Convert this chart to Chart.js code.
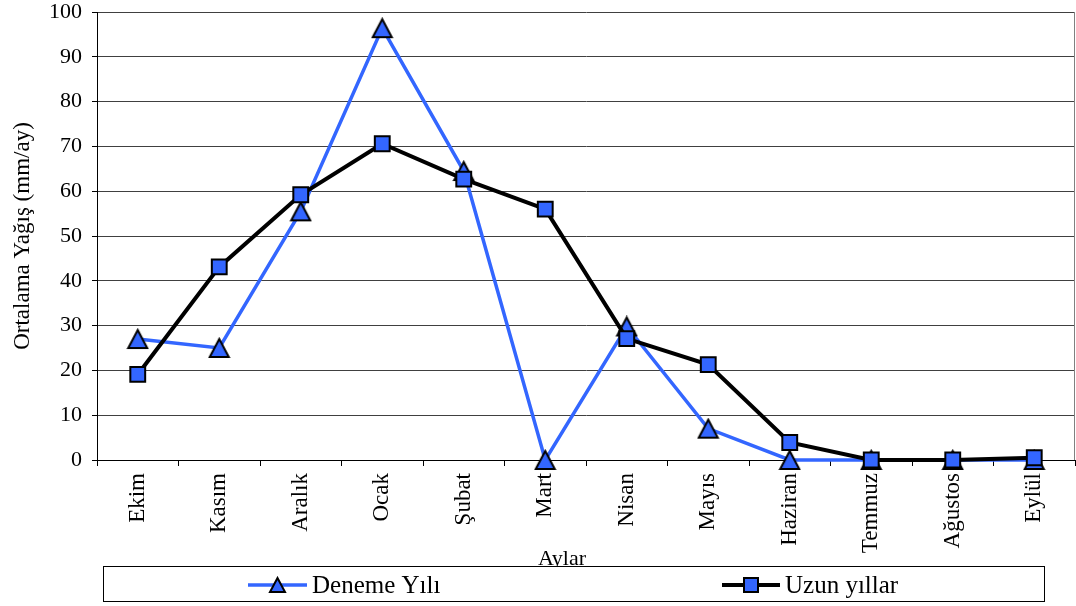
<!DOCTYPE html>
<html>
<head>
<meta charset="utf-8">
<script src="https://cdn.jsdelivr.net/npm/chart.js@4.4.1/dist/chart.umd.min.js"></script>
<style>
  html, body { margin: 0; padding: 0; background: #ffffff; }
  #wrap { width: 1076px; height: 606px; }
</style>
</head>
<body>
<div id="wrap"><canvas id="c" width="1076" height="606"></canvas></div>
<script>
// Monthly rainfall (mm/month), hydrological year October → September
const months = ['Ekim', 'Kasım', 'Aralık', 'Ocak', 'Şubat', 'Mart', 'Nisan', 'Mayıs', 'Haziran', 'Temmuz', 'Ağustos', 'Eylül'];
const denemeYili = [27, 25, 55.5, 96.4, 64.5, 0, 29.8, 7, 0, 0, 0, 0];
const uzunYillar = [19.1, 43.1, 59.2, 70.6, 62.7, 56, 27.1, 21.3, 3.9, 0, 0, 0.5];
const yTicks = [0, 10, 20, 30, 40, 50, 60, 70, 80, 90, 100];
const seriesNames = ['Deneme Yılı', 'Uzun yıllar'];
const xTitle = 'Aylar';
const yTitle = 'Ortalama Yağış (mm/ay)';

const SERIF = "'Liberation Serif', 'Times New Roman', serif";
const BLUE = '#3366FF';

// Upward triangle marker drawn on an offscreen canvas so it is centred on its box
function triangleMarker(w, h) {
  const c = document.createElement('canvas');
  c.width = w + 4;
  c.height = h + 4;
  const g = c.getContext('2d');
  g.beginPath();
  g.moveTo(c.width / 2, 2);
  g.lineTo(c.width - 2, c.height - 2);
  g.lineTo(2, c.height - 2);
  g.closePath();
  g.fillStyle = BLUE;
  g.fill();
  g.lineWidth = 2;
  g.strokeStyle = '#000';
  g.stroke();
  return c;
}
const triPoint = triangleMarker(19, 18);
const triLegend = triangleMarker(15, 14);

// Frame line on the right, x-axis caption and boxed legend underneath
const decorations = {
  id: 'decorations',
  afterDraw(chart) {
    const ctx = chart.ctx;
    const a = chart.chartArea;
    ctx.save();
    ctx.strokeStyle = '#808080';
    ctx.lineWidth = 1;
    ctx.beginPath();
    ctx.moveTo(Math.round(a.right) - 0.5, a.top);
    ctx.lineTo(Math.round(a.right) - 0.5, a.bottom);
    ctx.stroke();

    ctx.fillStyle = '#000';
    ctx.font = '22px ' + SERIF;
    ctx.textAlign = 'center';
    ctx.textBaseline = 'middle';
    ctx.fillText(xTitle, 562, 559);

    // legend box
    ctx.fillStyle = '#fff';
    ctx.fillRect(103.5, 566.5, 941, 35);
    ctx.strokeStyle = '#000';
    ctx.strokeRect(103.5, 566.5, 941, 35);

    const y = 585;
    const items = [
      { ds: chart.data.datasets[1], x0: 248, x1: 307 },
      { ds: chart.data.datasets[0], x0: 722, x1: 780 }
    ];
    items.forEach(it => {
      const ds = it.ds;
      ctx.strokeStyle = ds.borderColor;
      ctx.lineWidth = ds.borderWidth;
      ctx.beginPath();
      ctx.moveTo(it.x0, y);
      ctx.lineTo(it.x1, y);
      ctx.stroke();
      const cx = (it.x0 + it.x1) / 2;
      if (ds.pointStyle === triPoint) {
        ctx.drawImage(triLegend, Math.round(cx - triLegend.width / 2), Math.round(y - triLegend.height / 2));
      } else {
        ctx.fillStyle = ds.pointBackgroundColor;
        ctx.strokeStyle = ds.pointBorderColor;
        ctx.lineWidth = ds.pointBorderWidth;
        ctx.beginPath();
        const s = 7;
        ctx.rect(Math.round(cx - s), Math.round(y - s), 2 * s, 2 * s);
        ctx.fill();
        ctx.stroke();
      }
      ctx.fillStyle = '#000';
      ctx.font = '25px ' + SERIF;
      ctx.textAlign = 'left';
      ctx.textBaseline = 'middle';
      ctx.fillText(ds.label, it.x1 + 5, y + 1);
    });
    ctx.restore();
  }
};

new Chart(document.getElementById('c'), {
  type: 'line',
  data: {
    labels: months,
    datasets: [
      {
        label: seriesNames[1],
        data: uzunYillar,
        borderColor: '#000',
        borderWidth: 4,
        pointStyle: 'rect',
        pointRadius: 10.5,
        pointBackgroundColor: BLUE,
        pointBorderColor: '#000',
        pointBorderWidth: 2,
        tension: 0,
        order: 0,
        clip: false
      },
      {
        label: seriesNames[0],
        data: denemeYili,
        borderColor: BLUE,
        borderWidth: 3.5,
        pointStyle: triPoint,
        pointRadius: 10,
        pointBackgroundColor: BLUE,
        pointBorderColor: '#000',
        tension: 0,
        order: 1,
        clip: false
      }
    ]
  },
  options: {
    responsive: false,
    devicePixelRatio: 1,
    animation: false,
    layout: { autoPadding: false, padding: { left: 0, right: 1, top: 12, bottom: 38 } },
    plugins: {
      legend: { display: false },
      tooltip: { enabled: false }
    },
    scales: {
      x: {
        type: 'category',
        offset: true,
        afterFit(scale) {
          scale.height = 108;
          scale.paddingLeft = 0;
          scale.paddingRight = 0;
        },
        grid: {
          offset: true,
          drawOnChartArea: false,
          drawTicks: true,
          tickLength: 6,
          color: '#000',
          lineWidth: 1
        },
        border: { display: true, color: '#000', width: 1 },
        ticks: {
          autoSkip: false,
          minRotation: 90,
          maxRotation: 90,
          padding: 7,
          color: '#000',
          font: { family: SERIF, size: 23 }
        },
        title: { display: false }
      },
      y: {
        min: 0,
        max: 100,
        afterFit(scale) {
          scale.width = 97;
          scale.paddingTop = 0;
          scale.paddingBottom = 0;
        },
        afterBuildTicks(scale) { scale.ticks = yTicks.map(v => ({ value: v })); },
        grid: {
          color: '#404040',
          lineWidth: 1,
          tickLength: 5,
          tickColor: '#000'
        },
        border: { display: true, color: '#000', width: 1 },
        ticks: {
          padding: 10,
          color: '#000',
          font: { family: SERIF, size: 22 }
        },
        title: {
          display: true,
          text: yTitle,
          color: '#000',
          font: { family: SERIF, size: 23 },
          padding: { top: 9, bottom: 0 }
        }
      }
    }
  },
  plugins: [decorations]
});
</script>
</body>
</html>
